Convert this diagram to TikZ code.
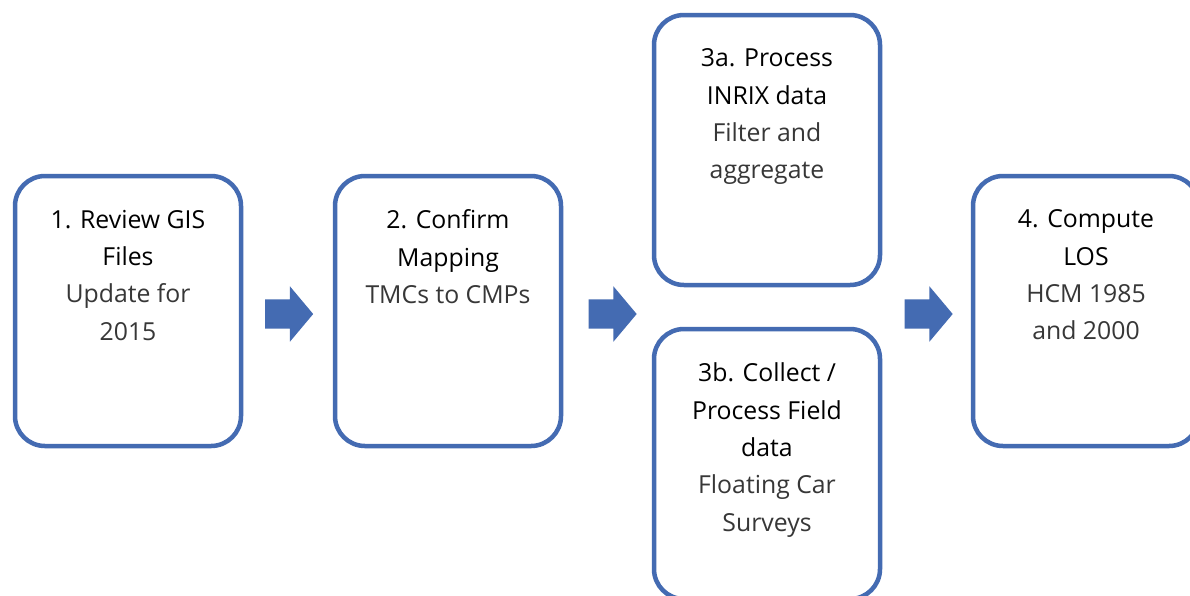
\documentclass[tikz,border=0pt]{standalone}
\usepackage{fontspec}
\setmainfont{Open Sans}
\usetikzlibrary{shapes.arrows}
\definecolor{boxblue}{RGB}{68,107,178}
\definecolor{subgray}{RGB}{55,55,55}
\tikzset{
  stepbox/.style={draw=boxblue, line width=4.5pt, rounded corners=30pt, fill=white,
    minimum width=226pt, minimum height=270pt, inner sep=0pt},
  steptext/.style={align=center, anchor=north, inner sep=0pt,
    font=\fontsize{24.8}{37.3}\selectfont, text=black},
  blockarrow/.style={single arrow, fill=boxblue, draw=none, inner xsep=0pt, inner ysep=14.5pt,
    minimum width=55pt, minimum height=48pt, single arrow head extend=13pt,
    single arrow tip angle=100}
}
\begin{document}
\begin{tikzpicture}[x=1pt,y=-1pt]
\clip (0,0) rectangle (1190,595);
\fill[white] (0,0) rectangle (1190,595);
% boxes
\node[stepbox] (b1) at (128,311) {};
\node[stepbox] (b2) at (448,311) {};
\node[stepbox] (b3a) at (767,150) {};
\node[stepbox] (b3b) at (767,464) {};
\node[stepbox] (b4) at (1086,311) {};
% texts
\node[steptext] (t1) at ([yshift=-36pt]b1.north) {1. Review GIS\\Files\\\textcolor{subgray}{Update for}\\\textcolor{subgray}{2015}};
\node[steptext] (t2) at ([yshift=-36pt]b2.north) {2. Confirm\\Mapping\\\textcolor{subgray}{TMCs to CMPs}};
\node[steptext] (t3a) at ([yshift=-36pt]b3a.north) {3a. Process\\INRIX data\\\textcolor{subgray}{Filter and}\\\textcolor{subgray}{aggregate}};
\node[steptext] (t3b) at ([yshift=-36pt]b3b.north) {3b. Collect /\\Process Field\\data\\\textcolor{subgray}{Floating Car}\\\textcolor{subgray}{Surveys}};
\node[steptext] (t4) at ([yshift=-36pt]b4.north) {4. Compute\\LOS\\\textcolor{subgray}{HCM 1985}\\\textcolor{subgray}{and 2000}};
% arrows
\node[blockarrow] (a1) at (283,314) {};
\node[blockarrow] (a2) at (606.5,314) {};
\node[blockarrow] (a3) at (922.5,314) {};
\end{tikzpicture}
\end{document}
